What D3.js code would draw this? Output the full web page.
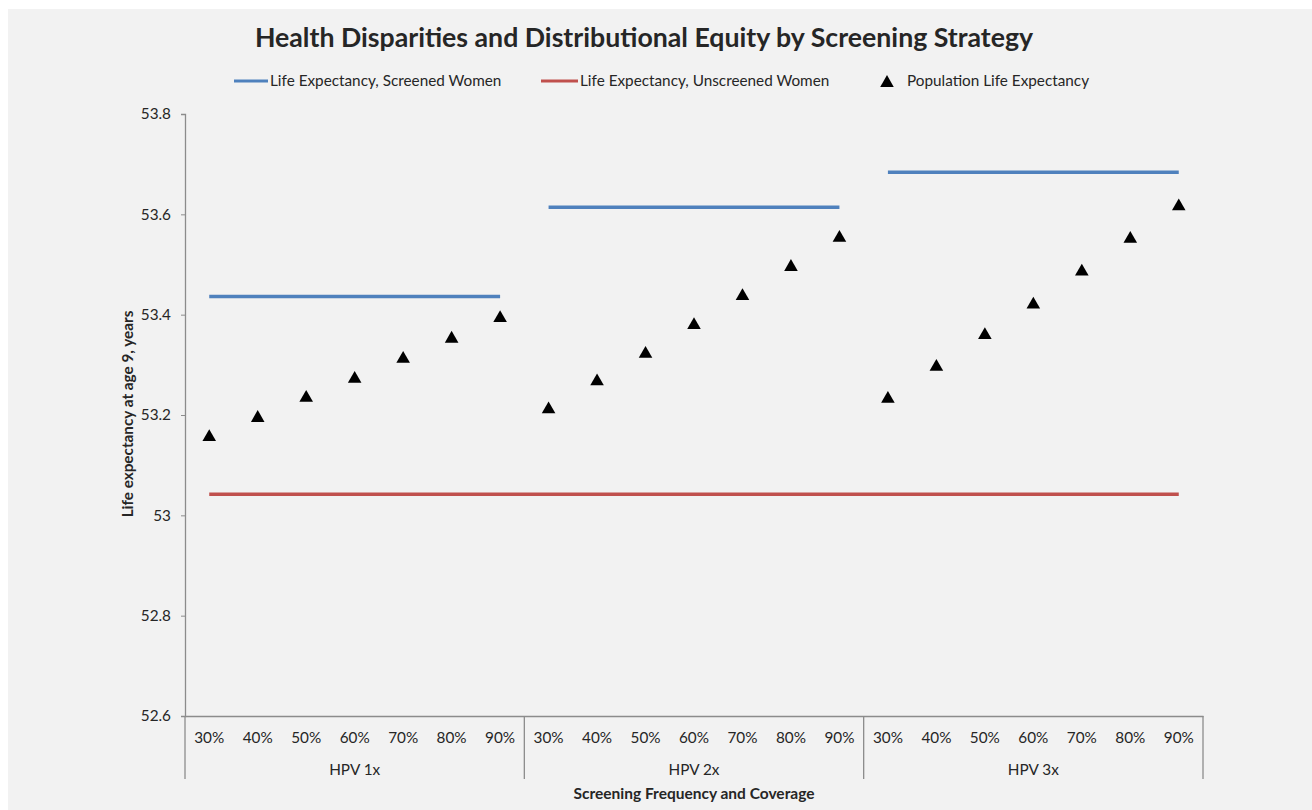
<!DOCTYPE html>
<html>
<head>
<meta charset="utf-8">
<script src="https://cdn.jsdelivr.net/npm/d3@7"></script>
<style>
  body { margin: 0; background: #fff; }
  svg { display: block; font-family: Lato, "Open Sans", sans-serif; }
</style>
</head>
<body>
<svg id="chart" width="1312" height="810"></svg>
<script>
// --- data ---
const groups = ["HPV 1x", "HPV 2x", "HPV 3x"];
const coverage = ["30%", "40%", "50%", "60%", "70%", "80%", "90%"];
const screenedLE = [53.436, 53.614, 53.684];   // one flat line per group
const unscreenedLE = 53.042;                    // one line across all groups
const populationLE = [
    [53.160, 53.198, 53.238, 53.276, 53.316, 53.356, 53.397],
    [53.215, 53.271, 53.326, 53.383, 53.441, 53.499, 53.557],
    [53.236, 53.300, 53.363, 53.424, 53.490, 53.555, 53.620]
];
const yTicks = [52.6, 52.8, 53, 53.2, 53.4, 53.6, 53.8];

const blue = "#4f81bd", red = "#c0504d", axisGrey = "#8c8c8c", textCol = "#262626";

// --- layout ---
const svg = d3.select("#chart");
const plot = { left: 185, right: 1203, top: 114, bottom: 716 };

svg.append("rect").attr("x", 8).attr("y", 9).attr("width", 1304).attr("height", 801).attr("fill", "#f2f2f2");

const keys = [];
groups.forEach(g => coverage.forEach(c => keys.push(g + "|" + c)));

const x = d3.scaleBand().domain(keys).range([plot.left, plot.right]);
const cx = k => x(k) + x.bandwidth() / 2;
const y = d3.scaleLinear().domain([52.6, 53.8]).range([plot.bottom, plot.top]);

// triangle centred on its bounding box, like the spreadsheet marker
const boxTriangle = {
    draw(ctx, size) {
        const s = Math.sqrt(size * 4 / Math.sqrt(3));
        const h = s * Math.sqrt(3) / 2;
        ctx.moveTo(0, -h / 2);
        ctx.lineTo(s / 2, h / 2);
        ctx.lineTo(-s / 2, h / 2);
        ctx.closePath();
    }
};

// --- title ---
svg.append("text")
    .attr("x", 644).attr("y", 47)
    .attr("text-anchor", "middle")
    .attr("font-size", 26.7).attr("font-weight", "bold").attr("fill", textCol)
    .text("Health Disparities and Distributional Equity by Screening Strategy");

// --- legend ---
const legend = svg.append("g").attr("font-size", 15.3).attr("fill", textCol);
legend.append("line").attr("x1", 234).attr("x2", 268).attr("y1", 81).attr("y2", 81)
    .attr("stroke", blue).attr("stroke-width", 3);
legend.append("text").attr("x", 270).attr("y", 86).text("Life Expectancy, Screened Women");
legend.append("line").attr("x1", 541).attr("x2", 578).attr("y1", 81).attr("y2", 81)
    .attr("stroke", red).attr("stroke-width", 3);
legend.append("text").attr("x", 580).attr("y", 86).text("Life Expectancy, Unscreened Women");
legend.append("path").attr("d", d3.symbol(boxTriangle, 80)())
    .attr("transform", "translate(887,81)").attr("fill", "#000");
legend.append("text").attr("x", 907).attr("y", 86).text("Population Life Expectancy");

// --- y axis ---
const yAxis = svg.append("g")
    .attr("transform", `translate(${plot.left},0)`)
    .call(d3.axisLeft(y).tickValues(yTicks).tickSize(4).tickPadding(10).tickFormat(d => String(+d.toFixed(1))));
yAxis.select(".domain").attr("stroke", axisGrey).attr("stroke-width", 1.3);
yAxis.selectAll(".tick line").attr("stroke", axisGrey);
yAxis.selectAll(".tick text").attr("font-size", 15.3).attr("fill", textCol).attr("font-family", "Lato, sans-serif");

svg.append("text")
    .attr("transform", `translate(133,414) rotate(-90)`)
    .attr("text-anchor", "middle")
    .attr("font-size", 15.3).attr("font-weight", "bold").attr("fill", textCol)
    .text("Life expectancy at age 9, years");

// --- x axis (two level categories) ---
const xAxis = svg.append("g")
    .attr("transform", `translate(0,${plot.bottom})`)
    .call(d3.axisBottom(x).tickSize(0).tickPadding(16).tickFormat(k => k.split("|")[1]));
xAxis.select(".domain").attr("stroke", axisGrey).attr("stroke-width", 1.3);
xAxis.selectAll(".tick text").attr("font-size", 15.3).attr("fill", textCol).attr("font-family", "Lato, sans-serif");

// separators between groups
const sepX = [0, 7, 14].map(i => x(keys[i])).concat([plot.right]);
svg.append("g").selectAll("line").data(sepX).join("line")
    .attr("x1", d => d).attr("x2", d => d)
    .attr("y1", plot.bottom).attr("y2", 779)
    .attr("stroke", axisGrey).attr("stroke-width", 1.3);

svg.append("g").selectAll("text").data(groups).join("text")
    .attr("x", (g, i) => (sepX[i] + sepX[i + 1]) / 2)
    .attr("y", 775)
    .attr("text-anchor", "middle")
    .attr("font-size", 15.3).attr("fill", textCol)
    .text(d => d);

svg.append("text")
    .attr("x", (plot.left + plot.right) / 2).attr("y", 799)
    .attr("text-anchor", "middle")
    .attr("font-size", 15.5).attr("font-weight", "bold").attr("fill", textCol)
    .text("Screening Frequency and Coverage");

// --- series ---
// unscreened women: one line over all categories
svg.append("line")
    .attr("x1", cx(keys[0])).attr("x2", cx(keys[keys.length - 1]))
    .attr("y1", y(unscreenedLE)).attr("y2", y(unscreenedLE))
    .attr("stroke", red).attr("stroke-width", 3.5);

// screened women: one line per group
svg.append("g").selectAll("line").data(groups).join("line")
    .attr("x1", g => cx(g + "|" + coverage[0]))
    .attr("x2", g => cx(g + "|" + coverage[coverage.length - 1]))
    .attr("y1", (g, i) => y(screenedLE[i]))
    .attr("y2", (g, i) => y(screenedLE[i]))
    .attr("stroke", blue).attr("stroke-width", 3.5);

// population life expectancy markers
const points = [];
groups.forEach((g, gi) => coverage.forEach((c, ci) => points.push({ key: g + "|" + c, value: populationLE[gi][ci] })));
svg.append("g").selectAll("path").data(points).join("path")
    .attr("d", d3.symbol(boxTriangle, 80)())
    .attr("transform", d => `translate(${cx(d.key)},${y(d.value)})`)
    .attr("fill", "#000");
</script>
</body>
</html>
